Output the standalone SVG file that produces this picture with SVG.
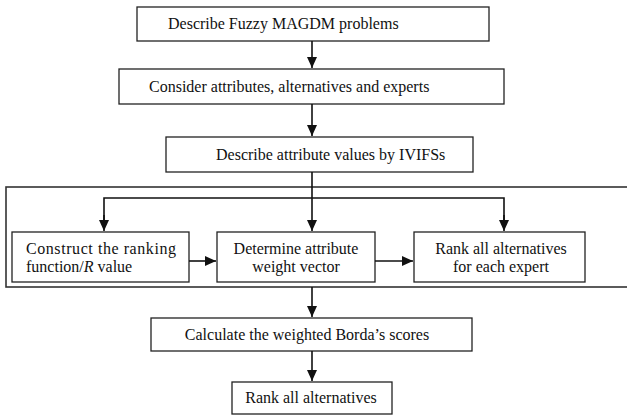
<svg xmlns="http://www.w3.org/2000/svg" width="627" height="416" viewBox="0 0 627 416">
<style>
.box{fill:#fff;stroke:#222;stroke-width:1.3}
.outer{fill:none;stroke:#333;stroke-width:1.6}
.t{font-family:"Liberation Serif","Times New Roman",serif;font-size:16px;fill:#111}
.c{text-anchor:middle}
.ln{fill:none;stroke:#111;stroke-width:1.6}
</style>
<defs>
<marker id="ah" markerWidth="12" markerHeight="12" refX="11" refY="5" orient="auto" markerUnits="userSpaceOnUse">
<path d="M0,0 L11,5 L0,10 Z" fill="#111"/>
</marker>
</defs>
<rect class="outer" x="6" y="187" width="640" height="100"/>
<g id="n1"><rect class="box" x="137" y="7" width="352" height="34"/><text class="t" x="168" y="29">Describe Fuzzy MAGDM problems</text></g>
<g id="n2"><rect class="box" x="119" y="69" width="385" height="35"/><text class="t" x="149" y="92">Consider attributes, alternatives and experts</text></g>
<g id="n3"><rect class="box" x="166" y="137" width="307" height="35"/><text class="t" x="216" y="160">Describe attribute values by IVIFSs</text></g>
<g id="n4"><rect class="box" x="12" y="232" width="177" height="50"/><text class="t" x="26" y="254" textLength="150" lengthAdjust="spacing">Construct the ranking</text><text class="t" x="26" y="272">function/<tspan font-style="italic">R</tspan> value</text></g>
<g id="n5"><rect class="box" x="217" y="232" width="158" height="50"/><text class="t c" x="296" y="254">Determine attribute</text><text class="t c" x="296" y="272">weight vector</text></g>
<g id="n6"><rect class="box" x="414" y="232" width="171" height="50"/><text class="t c" x="501" y="254">Rank all alternatives</text><text class="t c" x="501" y="272">for each expert</text></g>
<g id="n7"><rect class="box" x="151" y="318" width="321" height="33"/><text class="t c" x="307" y="340">Calculate the weighted Borda’s scores</text></g>
<g id="n8"><rect class="box" x="232" y="382" width="160" height="32"/><text class="t c" x="311" y="403">Rank all alternatives</text></g>
<g id="connectors">
<line class="ln" x1="312" y1="41" x2="312" y2="68" marker-end="url(#ah)"/>
<line class="ln" x1="312" y1="104" x2="312" y2="136" marker-end="url(#ah)"/>
<line class="ln" x1="312" y1="172" x2="312" y2="198"/>
<polyline class="ln" points="104,222 104,198 504,198 504,222"/>
<line class="ln" x1="104" y1="215" x2="104" y2="231" marker-end="url(#ah)"/>
<line class="ln" x1="504" y1="215" x2="504" y2="231" marker-end="url(#ah)"/>
<line class="ln" x1="312" y1="198" x2="312" y2="231" marker-end="url(#ah)"/>
<line class="ln" x1="189" y1="261" x2="216" y2="261" marker-end="url(#ah)"/>
<line class="ln" x1="375" y1="261" x2="413" y2="261" marker-end="url(#ah)"/>
<line class="ln" x1="312" y1="287" x2="312" y2="317" marker-end="url(#ah)"/>
<line class="ln" x1="312" y1="351" x2="312" y2="381" marker-end="url(#ah)"/>
</g>
</svg>
